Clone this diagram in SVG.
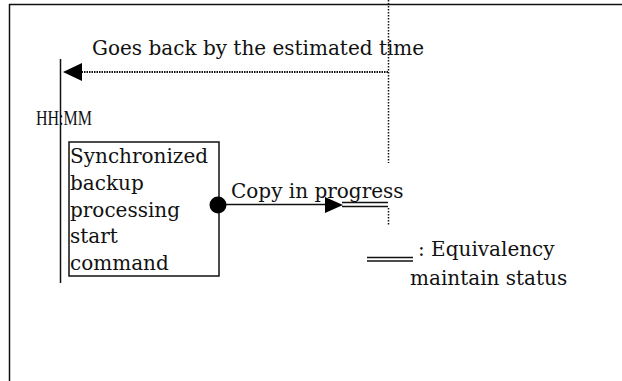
<svg xmlns="http://www.w3.org/2000/svg" width="622" height="381" viewBox="0 0 622 381">
  <style>
    .t { font-family: "DejaVu Serif", serif; font-size: 20px; fill: #111; }
    .hm { font-family: "Liberation Serif", serif; font-size: 20px; fill: #111; }
    .solid { stroke: #111; stroke-width: 1.5; fill: none; }
    .dot { stroke: #111; stroke-width: 2; fill: none; stroke-dasharray: 1.5 1; }
    .vdot { stroke: #111; stroke-width: 1.5; fill: none; stroke-dasharray: 1.5 1.5; }
    .head { fill: #000; stroke: none; }
  </style>
  <rect x="0" y="0" width="622" height="381" fill="#fff"/>
  <g id="frame">
    <line class="solid" x1="9" y1="4.5" x2="622" y2="4.5"/>
    <line class="solid" x1="9.5" y1="4" x2="9.5" y2="381"/>
  </g>
  <g id="estimated-time-marker">
    <line class="vdot" x1="388.5" y1="0" x2="388.5" y2="163"/>
    <line class="vdot" x1="388.5" y1="208" x2="388.5" y2="226"/>
  </g>
  <g id="timeline">
    <line class="solid" x1="60.5" y1="59" x2="60.5" y2="283"/>
    <text class="hm" x="36" y="125" textLength="56" lengthAdjust="spacingAndGlyphs">HH:MM</text>
  </g>
  <g id="start-command">
    <rect class="solid" x="69" y="142" width="150" height="134" stroke="#222"/>
    <text class="t" x="70" y="163">Synchronized</text>
    <text class="t" x="70" y="190">backup</text>
    <text class="t" x="70" y="216.5">processing</text>
    <text class="t" x="70" y="243">start</text>
    <text class="t" x="70" y="270">command</text>
  </g>
  <g id="connectors">
    <g id="goes-back">
      <line class="dot" x1="388" y1="72" x2="81" y2="72"/>
      <polygon class="head" points="63,72 82,63 82,81"/>
      <text class="t" x="92" y="54.5">Goes back by the estimated time</text>
    </g>
    <g id="copy-in-progress">
      <line class="solid" x1="218" y1="204.5" x2="330" y2="204.5"/>
      <circle cx="218" cy="205" r="8.5" fill="#000"/>
      <polygon class="head" points="343,205 325,197 325,213"/>
      <text class="t" x="231" y="197.5">Copy in progress</text>
      <line class="solid" x1="342" y1="202.5" x2="388" y2="202.5"/>
      <line class="solid" x1="342" y1="206.5" x2="388" y2="206.5"/>
    </g>
  </g>
  <g id="legend">
    <line class="solid" x1="367" y1="257.5" x2="413" y2="257.5"/>
    <line class="solid" x1="367" y1="261" x2="413" y2="261"/>
    <text class="t" x="418" y="256">: Equivalency</text>
    <text class="t" x="410" y="285">maintain status</text>
  </g>
</svg>
